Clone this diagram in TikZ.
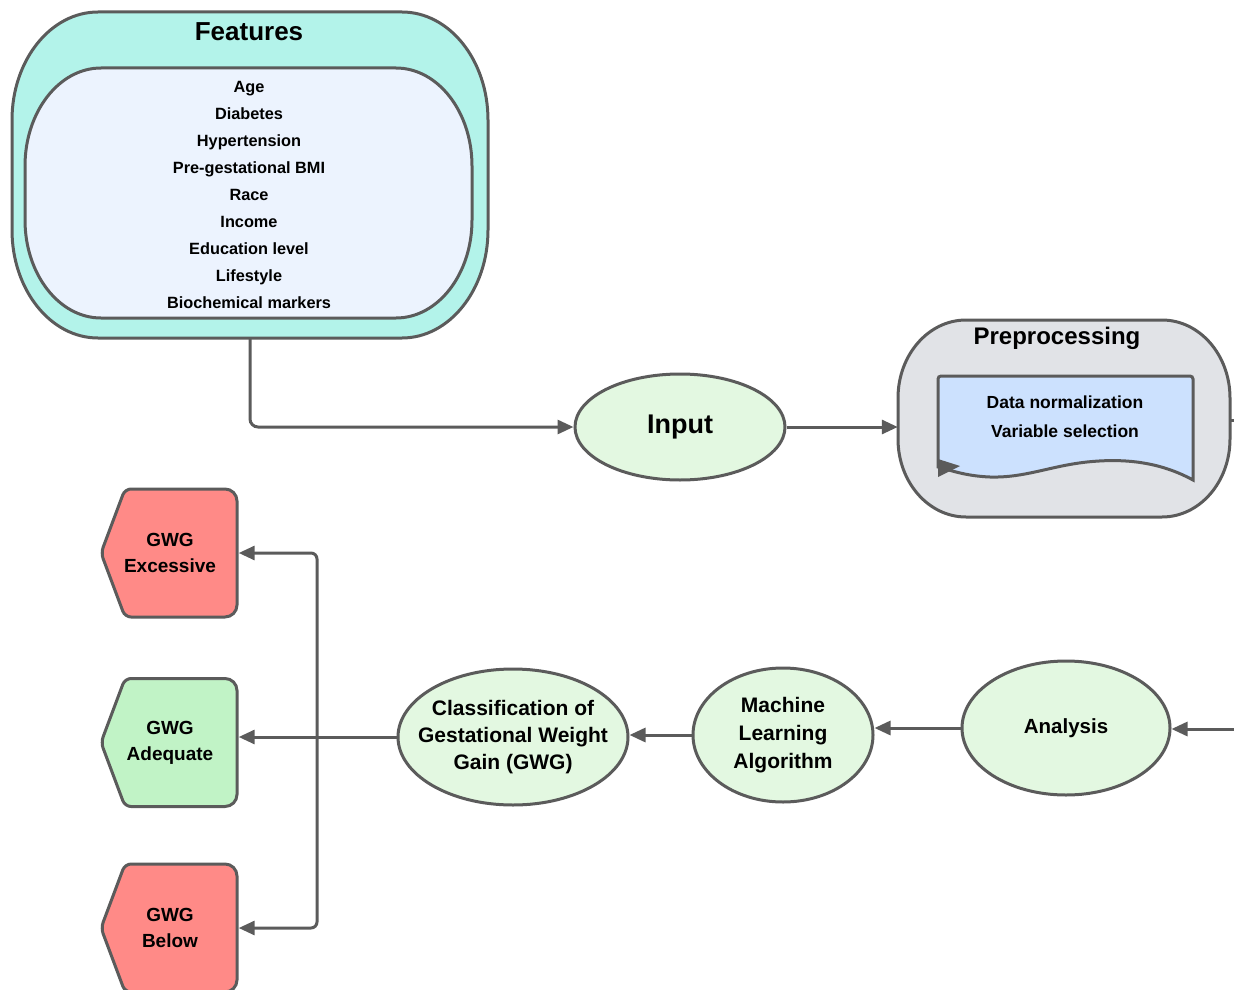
\documentclass[tikz,border=0pt]{standalone}
\usepackage{fontspec}
\setmainfont{Liberation Sans}
\usetikzlibrary{shapes.geometric,arrows.meta,calc}
\definecolor{ln}{HTML}{5B5B5B}
\definecolor{featc}{HTML}{B3F3EA}
\definecolor{featin}{HTML}{ECF3FE}
\definecolor{elgreen}{HTML}{E3F8E1}
\definecolor{prepc}{HTML}{E1E3E7}
\definecolor{docc}{HTML}{CCE1FE}
\definecolor{gwgred}{HTML}{FF8A87}
\definecolor{gwggreen}{HTML}{C1F3C6}
% box with elliptical corners: x0,y0,x1,y1,rx,ry,fill
\newcommand\ellcornerbox[7]{%
  \pgfmathsetmacro\kx{0.5523*#5}\pgfmathsetmacro\ky{0.5523*#6}%
  \draw[ln, line width=3pt, fill=#7]
    ({#1+#5},#2) -- ({#3-#5},#2)
    .. controls ({#3-#5+\kx},#2) and (#3,{#2+#6-\ky}) .. (#3,{#2+#6})
    -- (#3,{#4-#6})
    .. controls (#3,{#4-#6+\ky}) and ({#3-#5+\kx},#4) .. ({#3-#5},#4)
    -- ({#1+#5},#4)
    .. controls ({#1+#5-\kx},#4) and (#1,{#4-#6+\ky}) .. (#1,{#4-#6})
    -- (#1,{#2+#6})
    .. controls (#1,{#2+#6-\ky}) and ({#1+#5-\kx},#2) .. ({#1+#5},#2) -- cycle;}
\newcommand\gwgshape[3]{%
  \draw[ln, line width=3pt, fill=#3, rounded corners=6pt]
    ({#1-44},{#2-64}) [rounded corners=12pt] -- ({#1+68},{#2-64})
    -- ({#1+68},{#2+64}) [rounded corners=6pt]
    -- ({#1-44},{#2+64}) -- ({#1-68},{#2}) -- cycle;}
\begin{document}
\begin{tikzpicture}[x=1pt,y=-1pt,
  conn/.style={draw=ln, line width=3pt, -{Triangle[length=16pt,width=14pt]}},
  ell/.style={ellipse, draw=ln, line width=3pt, fill=elgreen, inner sep=0pt, align=center},
  gwgtext/.style={minimum width=137pt, minimum height=128pt, inner sep=0pt, align=center, font=\fontsize{19}{26}\selectfont\bfseries},
  anchorbox/.style={rectangle, inner sep=0pt},
]
\useasboundingbox (0,0) rectangle (1234,990);

% Features
\ellcornerbox{12}{12}{488}{338}{86}{108}{featc}
\node[anchorbox, minimum width=476pt, minimum height=326pt] (feat) at (250,175) {};
\node[font=\fontsize{26}{30}\selectfont\bfseries] (feattitle) at (249,32) {Features};
\ellcornerbox{25}{68}{472}{318}{76}{98}{featin}
\node[anchorbox, align=center, font=\fontsize{16.3}{27}\selectfont\bfseries] (featlist) at (249,195)
 {Age\\Diabetes\\Hypertension\\Pre-gestational BMI\\Race\\Income\\Education level\\Lifestyle\\Biochemical markers};

% Input
\node[ell, minimum width=210pt, minimum height=106pt, font=\fontsize{27}{30}\selectfont\bfseries] (input) at (680,427) {Input};

% Preprocessing
\ellcornerbox{898}{320}{1230}{517}{68}{78}{prepc}
\node[anchorbox, minimum width=332pt, minimum height=197pt] (prep) at (1064,418.5) {};
\node[font=\fontsize{24}{28}\selectfont\bfseries] (preptitle) at (1057,338) {Preprocessing};
\draw[ln, line width=3pt, fill=docc, rounded corners=3pt] (938,467) -- (938,376) -- (1193,376) [sharp corners] -- (1193,480)
  .. controls (1160,462) and (1125,458) .. (1087,462)
  .. controls (1050,466) and (1025,478) .. (990,477)
  .. controls (965,476) and (950,470) .. (938,467) -- cycle;
\fill[ln] (938,459) -- (938,477) -- (960,466) -- cycle;
\node[font=\fontsize{17.5}{29}\selectfont\bfseries, align=center] (doctext) at (1065,417) {Data normalization\\Variable selection};

% Bottom row
\node[ell, minimum width=208pt, minimum height=134pt, font=\fontsize{20.5}{28}\selectfont\bfseries] (ana) at (1066,728) {Analysis};
\node[ell, minimum width=180pt, minimum height=134pt] (ml) at (783,735)
  {};
\node[anchorbox, align=center, font=\fontsize{21}{28}\selectfont\bfseries] (mltext) at (ml.center) {Machine\\Learning\\Algorithm};
\node[ell, minimum width=230pt, minimum height=136pt] (cls) at (513,737) {};
\node[anchorbox, align=center, font=\fontsize{21}{27}\selectfont\bfseries] (clstext) at (cls.center) {Classification of\\Gestational Weight\\Gain (GWG)};

% GWG outcomes
\gwgshape{169}{553}{gwgred}
\node[gwgtext] (exc) at (170,553) {GWG\\Excessive};
\gwgshape{169}{742.5}{gwggreen}
\node[gwgtext] (adq) at (170,742.5) {GWG\\Adequate};
\gwgshape{169}{928}{gwgred}
\node[gwgtext] (blw) at (170,928) {GWG\\Below};

% Connectors
\draw[conn, rounded corners=8pt] (feat.south) |- (input.west);
\draw[conn] (input.east) -- (input.east -| prep.west);
\coordinate (outR) at (1240,420);
\coordinate (inR) at (1240,729);
\draw[ln, line width=3pt] (prep.east |- outR) -- (outR);
\draw[conn] (inR) -- (inR -| ana.east);
\draw[conn] (ana.west) -- (ana.west -| ml.east);
\draw[conn] (ml.west) -- (ml.west -| cls.east);
\draw[conn] (cls.west) -- (cls.west -| adq.east);
\coordinate (br) at (317,737);
\draw[conn, rounded corners=6pt] (br) |- (exc.east);
\draw[conn, rounded corners=6pt] (br) |- (blw.east);
\end{tikzpicture}
\end{document}
